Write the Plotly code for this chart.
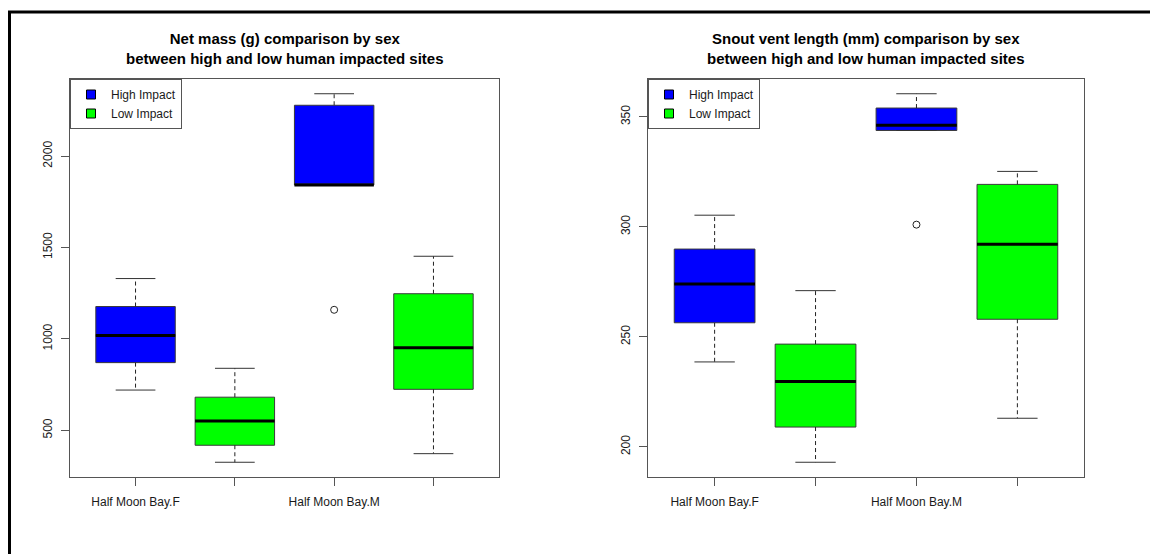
import plotly.graph_objects as go
from plotly.subplots import make_subplots

# ---------------- data ----------------
positions = [1, 2, 3, 4]
groups = ["High Impact", "Low Impact", "High Impact", "Low Impact"]
tick_labels = ["Half Moon Bay.F", "", "Half Moon Bay.M", ""]
legend_groups = ["High Impact", "Low Impact"]

mass_lower = [720, 325, 1842, 372]
mass_q1 = [870, 418, 1842, 724]
mass_median = [1018, 551, 1842, 952]
mass_q3 = [1177, 681, 2278, 1247]
mass_upper = [1330, 839, 2341, 1452]
mass_outliers = [[], [], [1159], []]

svl_lower = [238.6, 193, 343.8, 213]
svl_q1 = [256.4, 209, 343.8, 258]
svl_median = [274, 229.7, 346.2, 292.1]
svl_q3 = [289.9, 246.7, 354, 319.3]
svl_upper = [305.3, 271, 360.5, 325.2]
svl_outliers = [[], [], [301], []]

titles = [
    "Net mass (g) comparison by sex<br>between high and low human impacted sites",
    "Snout vent length (mm) comparison by sex<br>between high and low human impacted sites",
]

# ---------------- style ----------------
FONT = "Liberation Sans, Arial, Helvetica, sans-serif"
fills = {"High Impact": "#0000FF", "Low Impact": "#00FF00"}
EDGE = "#3a3a3a"
AXC = "#555555"
HALF_W = 0.4
CAP_W = 0.2

W, H = 1150, 554
ML, MR, MT, MB = 70, 66, 79, 77
PW = W - ML - MR
PH = H - MT - MB
left_dom = [0, (499 - ML) / PW]
right_dom = [(648 - ML) / PW, 1]

fig = make_subplots(rows=1, cols=2)


def rlim(lo, hi):
    d = (hi - lo) * 0.04
    return [lo - d, hi + d]


def add_panel(col, lower, q1, med, q3, upper, outl, legend_name):
    for i, pos in enumerate(positions):
        color = fills[groups[i]]
        # dashed whiskers
        fig.add_trace(go.Scatter(
            x=[pos, pos, None, pos, pos],
            y=[q3[i], upper[i], None, q1[i], lower[i]],
            mode="lines", line=dict(color="#222222", width=1, dash="4px,3px"),
            showlegend=False, hoverinfo="skip"), row=1, col=col)
        # caps
        fig.add_trace(go.Scatter(
            x=[pos - CAP_W, pos + CAP_W, None, pos - CAP_W, pos + CAP_W],
            y=[upper[i], upper[i], None, lower[i], lower[i]],
            mode="lines", line=dict(color="#333333", width=1),
            showlegend=False, hoverinfo="skip"), row=1, col=col)
        # box body
        fig.add_trace(go.Box(
            x=[pos], q1=[q1[i]], median=[med[i]], q3=[q3[i]],
            lowerfence=[q1[i]], upperfence=[q3[i]],
            width=2 * HALF_W, whiskerwidth=0,
            fillcolor=color, line=dict(color=EDGE, width=1),
            boxpoints=False, showlegend=False, hoverinfo="skip"), row=1, col=col)
        # thick median
        fig.add_trace(go.Scatter(
            x=[pos - HALF_W, pos + HALF_W], y=[med[i], med[i]],
            mode="lines", line=dict(color="black", width=3),
            showlegend=False, hoverinfo="skip"), row=1, col=col)
        # outliers
        if outl[i]:
            fig.add_trace(go.Scatter(
                x=[pos] * len(outl[i]), y=outl[i], mode="markers",
                marker=dict(symbol="circle-open", size=7, color="#222222",
                            line=dict(width=1)),
                showlegend=False, hoverinfo="skip"), row=1, col=col)
    for g in legend_groups:
        fig.add_trace(go.Scatter(
            x=[None], y=[None], mode="markers", name=g,
            marker=dict(symbol="square", size=9, color=fills[g],
                        line=dict(color="black", width=1)),
            legend=legend_name, showlegend=True), row=1, col=col)
    allv = lower + upper + sum(outl, [])
    return rlim(min(allv), max(allv))


yr1 = add_panel(1, mass_lower, mass_q1, mass_median, mass_q3, mass_upper,
                mass_outliers, "legend")
yr2 = add_panel(2, svl_lower, svl_q1, svl_median, svl_q3, svl_upper,
                svl_outliers, "legend2")

xcommon = dict(range=[0.34, 4.66], tickmode="array", tickvals=positions,
               ticktext=tick_labels, ticks="outside", ticklen=8, tickcolor=AXC,
               showline=True, mirror=True, linecolor=AXC, linewidth=1,
               showgrid=False, zeroline=False,
               tickfont=dict(family=FONT, size=12, color="#1a1a1a"),
               ticklabelstandoff=6)
ycommon = dict(ticks="outside", ticklen=8, tickcolor=AXC, tickangle=-90,
               showline=True, mirror=True, linecolor=AXC, linewidth=1,
               showgrid=False, zeroline=False,
               tickfont=dict(family=FONT, size=12, color="#1a1a1a"),
               ticklabelstandoff=4)

fig.update_layout(
    xaxis=dict(domain=left_dom, **xcommon),
    xaxis2=dict(domain=right_dom, **xcommon),
    yaxis=dict(range=yr1, tick0=500, dtick=500, **ycommon),
    yaxis2=dict(range=yr2, tick0=200, dtick=50, **ycommon),
)

leg_common = dict(xanchor="left", yanchor="top", bgcolor="white",
                  bordercolor=AXC, borderwidth=1,
                  font=dict(family=FONT, size=12, color="#1a1a1a"),
                  tracegroupgap=0)
fig.update_layout(
    legend=dict(x=left_dom[0], y=1, **leg_common),
    legend2=dict(x=right_dom[0], y=1, **leg_common),
)

title_y = 1 + (MT - 48.5) / PH
for dom, t in zip([left_dom, right_dom], titles):
    fig.add_annotation(text="<b>" + t + "</b>", xref="paper", yref="paper",
                       x=(dom[0] + dom[1]) / 2, y=title_y, xanchor="center",
                       yanchor="middle", showarrow=False,
                       font=dict(family=FONT, size=15, color="black"))

# outer frame (extends past right/bottom edges as in the reference)
fig.add_shape(type="rect", xref="paper", yref="paper",
              x0=(9.5 - ML) / PW, x1=1.3, y0=-0.5, y1=1 + (MT - 12) / PH,
              line=dict(color="black", width=3), fillcolor="rgba(0,0,0,0)",
              layer="below")

fig.update_layout(
    width=W, height=H, autosize=False,
    margin=dict(l=ML, r=MR, t=MT, b=MB, pad=0),
    paper_bgcolor="white", plot_bgcolor="white",
    font=dict(family=FONT, size=12, color="#1a1a1a"),
    boxmode="overlay", showlegend=True,
)

fig.write_html("out.html", config={"displayModeBar": False},
               post_script="document.body.style.margin='0';")
